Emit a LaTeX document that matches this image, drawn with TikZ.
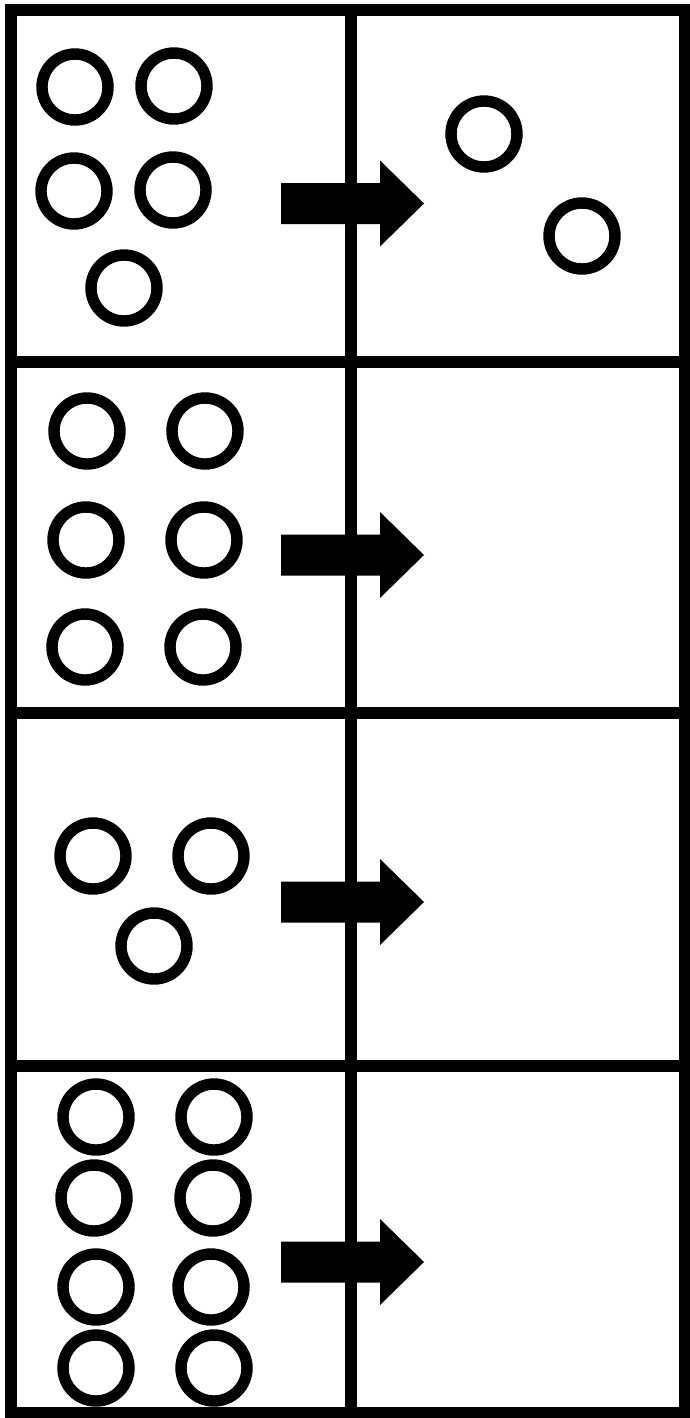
\documentclass[tikz,border=0pt]{standalone}
\begin{document}
\begin{tikzpicture}[
    x=0.02cm, y=-0.02cm,
    ball/.style={circle, draw, line width=6.5pt, minimum size=1.32cm, inner sep=0pt},
    grid/.style={line width=6.4pt},
  ]
  \useasboundingbox (0,0) rectangle (690,1418);

  \def\xl{11}    % bordo sinistro
  \def\xr{685}   % bordo destro
  \def\xm{351}   % divisione centrale

  % ---- la griglia 4 x 2 -------------------------------------------------------
  \draw[grid] (\xl,10) rectangle (\xr,1413);
  \draw[grid] (\xm,10) -- (\xm,1413);
  \foreach \y in {362,713,1066}
    \draw[grid] (\xl,\y) -- (\xr,\y);

  % ---- riga 1: cinque palline, a destra ne restano due ------------------------
  \foreach \p [count=\k] in {(75,87),(174,86),(74,191),(173,190),(124,288)}
    \node[ball] (a\k) at \p {};
  \foreach \p [count=\k] in {(484,134),(582,236)}
    \node[ball] (r\k) at \p {};

  % ---- riga 2: sei palline -----------------------------------------------------
  \foreach \p [count=\k] in {(87,431),(205,431),(86,540),(204,540),(85,647),(203,647)}
    \node[ball] (b\k) at \p {};

  % ---- riga 3: tre palline -----------------------------------------------------
  \foreach \p [count=\k] in {(93,856),(211,856),(154,946)}
    \node[ball] (c\k) at \p {};

  % ---- riga 4: otto palline ----------------------------------------------------
  \foreach \p [count=\k] in {(96,1117),(214,1117),(94,1198),(213,1198),
                             (96,1287),(211,1287),(96,1368),(214,1368)}
    \node[ball] (d\k) at \p {};

  % ---- le frecce sopra la divisione centrale ---------------------------------
  \foreach \c in {203.5,555,902,1262}
    \fill (281,\c-20.5) -- (380,\c-20.5) -- (380,\c-43) -- (424,\c)
          -- (380,\c+43) -- (380,\c+20.5) -- (281,\c+20.5) -- cycle;

\end{tikzpicture}
\end{document}
